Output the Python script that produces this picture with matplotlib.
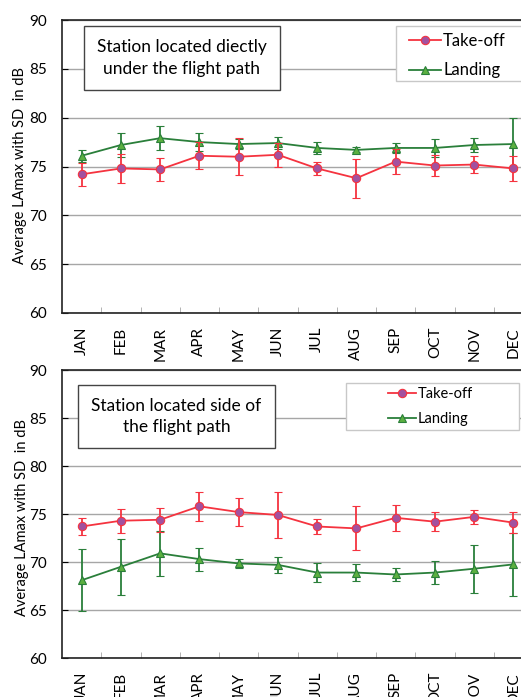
import numpy as np
import matplotlib.pyplot as plt
from matplotlib.lines import Line2D
from matplotlib.patches import Rectangle

months = ['JAN', 'FEB', 'MAR', 'APR', 'MAY', 'JUN',
          'JUL', 'AUG', 'SEP', 'OCT', 'NOV', 'DEC']

# station directly under the flight path
under_takeoff = [74.2, 74.8, 74.7, 76.1, 76.0, 76.2, 74.8, 73.8, 75.5, 75.1, 75.2, 74.8]
under_takeoff_sd = [1.2, 1.5, 1.15, 1.4, 1.9, 1.2, 0.7, 2.0, 1.3, 1.1, 0.9, 1.3]
under_landing = [76.1, 77.2, 77.9, 77.5, 77.3, 77.4, 76.9, 76.7, 76.9, 76.9, 77.2, 77.3]
under_landing_sd = [0.6, 1.2, 1.25, 0.95, 0.5, 0.6, 0.6, 0.25, 0.55, 0.9, 0.7, 2.7]

# station to the side of the flight path
side_takeoff = [73.7, 74.3, 74.4, 75.8, 75.2, 74.9, 73.7, 73.5, 74.6, 74.2, 74.7, 74.1]
side_takeoff_sd = [0.9, 1.25, 1.25, 1.5, 1.5, 2.35, 0.75, 2.3, 1.35, 1.0, 0.75, 1.1]
side_landing = [68.1, 69.5, 70.9, 70.3, 69.85, 69.7, 68.9, 68.9, 68.7, 68.9, 69.3, 69.75]
side_landing_sd = [3.25, 2.9, 2.35, 1.2, 0.5, 0.8, 1.0, 0.85, 0.7, 1.2, 2.5, 3.25]

plt.rcParams['font.family'] = ['Lato', 'DejaVu Sans']

W, H = 521, 697
fig = plt.figure(figsize=(W / 100, H / 100), dpi=100)

RED = '#f5333f'
PURPLE = '#a2519f'
DKGREEN = '#2a7f3a'
LTGREEN = '#5bb040'


def draw_panel(ax, takeoff, takeoff_sd, landing, landing_sd, note, note_xy,
               leg_frame, leg_anchor, leg_size, leg_spacing):
    x = np.arange(len(months))
    ax.errorbar(x, landing, yerr=landing_sd, color=DKGREEN, lw=1.3,
                marker='^', ms=6, mfc=LTGREEN, mec=DKGREEN, mew=0.8,
                ecolor=DKGREEN, elinewidth=1.3, capsize=3, capthick=1.3,
                zorder=3)
    ax.errorbar(x, takeoff, yerr=takeoff_sd, color=RED, lw=1.3,
                marker='o', ms=6, mfc=PURPLE, mec=RED, mew=0.8,
                ecolor=RED, elinewidth=1.3, capsize=3, capthick=1.3,
                zorder=4)

    ax.set_xlim(-0.5, len(months) - 0.5)
    ax.set_ylim(60, 90)
    ax.set_yticks(range(60, 91, 5))
    ax.grid(axis='y', color='#a6a6a6', lw=1)
    ax.set_axisbelow(True)

    ax.set_xticks(x)
    ax.set_xticklabels(months, rotation=90, fontsize=11)
    ax.set_xticks(np.arange(0.5, len(months) - 0.5), minor=True)
    ax.tick_params(axis='x', which='major', length=0, pad=10)
    ax.tick_params(axis='x', which='minor', direction='in', length=4,
                   color='#a6a6a6')
    ax.tick_params(axis='y', direction='in', length=4, labelsize=11, pad=11)

    for side in ('left', 'bottom', 'top'):
        ax.spines[side].set_color('#222222')
        ax.spines[side].set_linewidth(1.2)
    ax.spines['right'].set_visible(False)

    ax.text(note_xy[0], note_xy[1], note, transform=ax.transAxes,
            ha='center', va='center', fontsize=12.5, linespacing=1.4,
            bbox=dict(boxstyle='square,pad=0.75', fc='white', ec='#444444', lw=1))

    # legend frame drawn separately so the entries can sit inside a wider box
    fx0, fy0, fx1, fy1 = leg_frame
    ax.add_patch(Rectangle((fx0, fy0), fx1 - fx0, fy1 - fy0, transform=ax.transAxes,
                           fc='white', ec='#c8c8c8', lw=1, zorder=5, clip_on=False))
    handles = [
        Line2D([], [], color=RED, lw=1.3, marker='o', ms=6, mfc=PURPLE, mec=RED, mew=0.8),
        Line2D([], [], color=DKGREEN, lw=1.3, marker='^', ms=6, mfc=LTGREEN,
               mec=DKGREEN, mew=0.8),
    ]
    leg = ax.legend(handles, ['Take-off', 'Landing'], loc='upper left',
                    bbox_to_anchor=leg_anchor, fontsize=leg_size, frameon=False,
                    handlelength=1.9, handletextpad=0.15, borderpad=0.0,
                    borderaxespad=0.0, labelspacing=leg_spacing)
    leg.set_zorder(6)


ax1 = fig.add_axes([62 / W, 1 - 313 / H, 471 / W, 293 / H])
draw_panel(ax1, under_takeoff, under_takeoff_sd, under_landing, under_landing_sd,
           'Station located diectly\nunder the flight path', (0.254, 0.870),
           ((396 - 62) / 471, (313 - 81) / 293, 1.0, (313 - 26) / 293),
           ((409 - 62) / 471, (313 - 33) / 293), 12, 0.8)

ax2 = fig.add_axes([62 / W, 1 - 658 / H, 471 / W, 288 / H])
draw_panel(ax2, side_takeoff, side_takeoff_sd, side_landing, side_landing_sd,
           'Station located side of\nthe flight path', (0.243, 0.8385),
           ((346 - 62) / 471, (658 - 430) / 288, (519 - 62) / 471, (658 - 383) / 288),
           ((388 - 62) / 471, (658 - 387) / 288), 10.5, 0.75)

fig.text(20 / W, 1 - 165 / H, 'Average LAmax with SD  in dB', rotation=90,
         ha='center', va='center', fontsize=10.5)
fig.text(22 / W, 1 - 517 / H, 'Average LAmax with SD  in dB', rotation=90,
         ha='center', va='center', fontsize=10.5)

fig.savefig('out.png', dpi=100)
